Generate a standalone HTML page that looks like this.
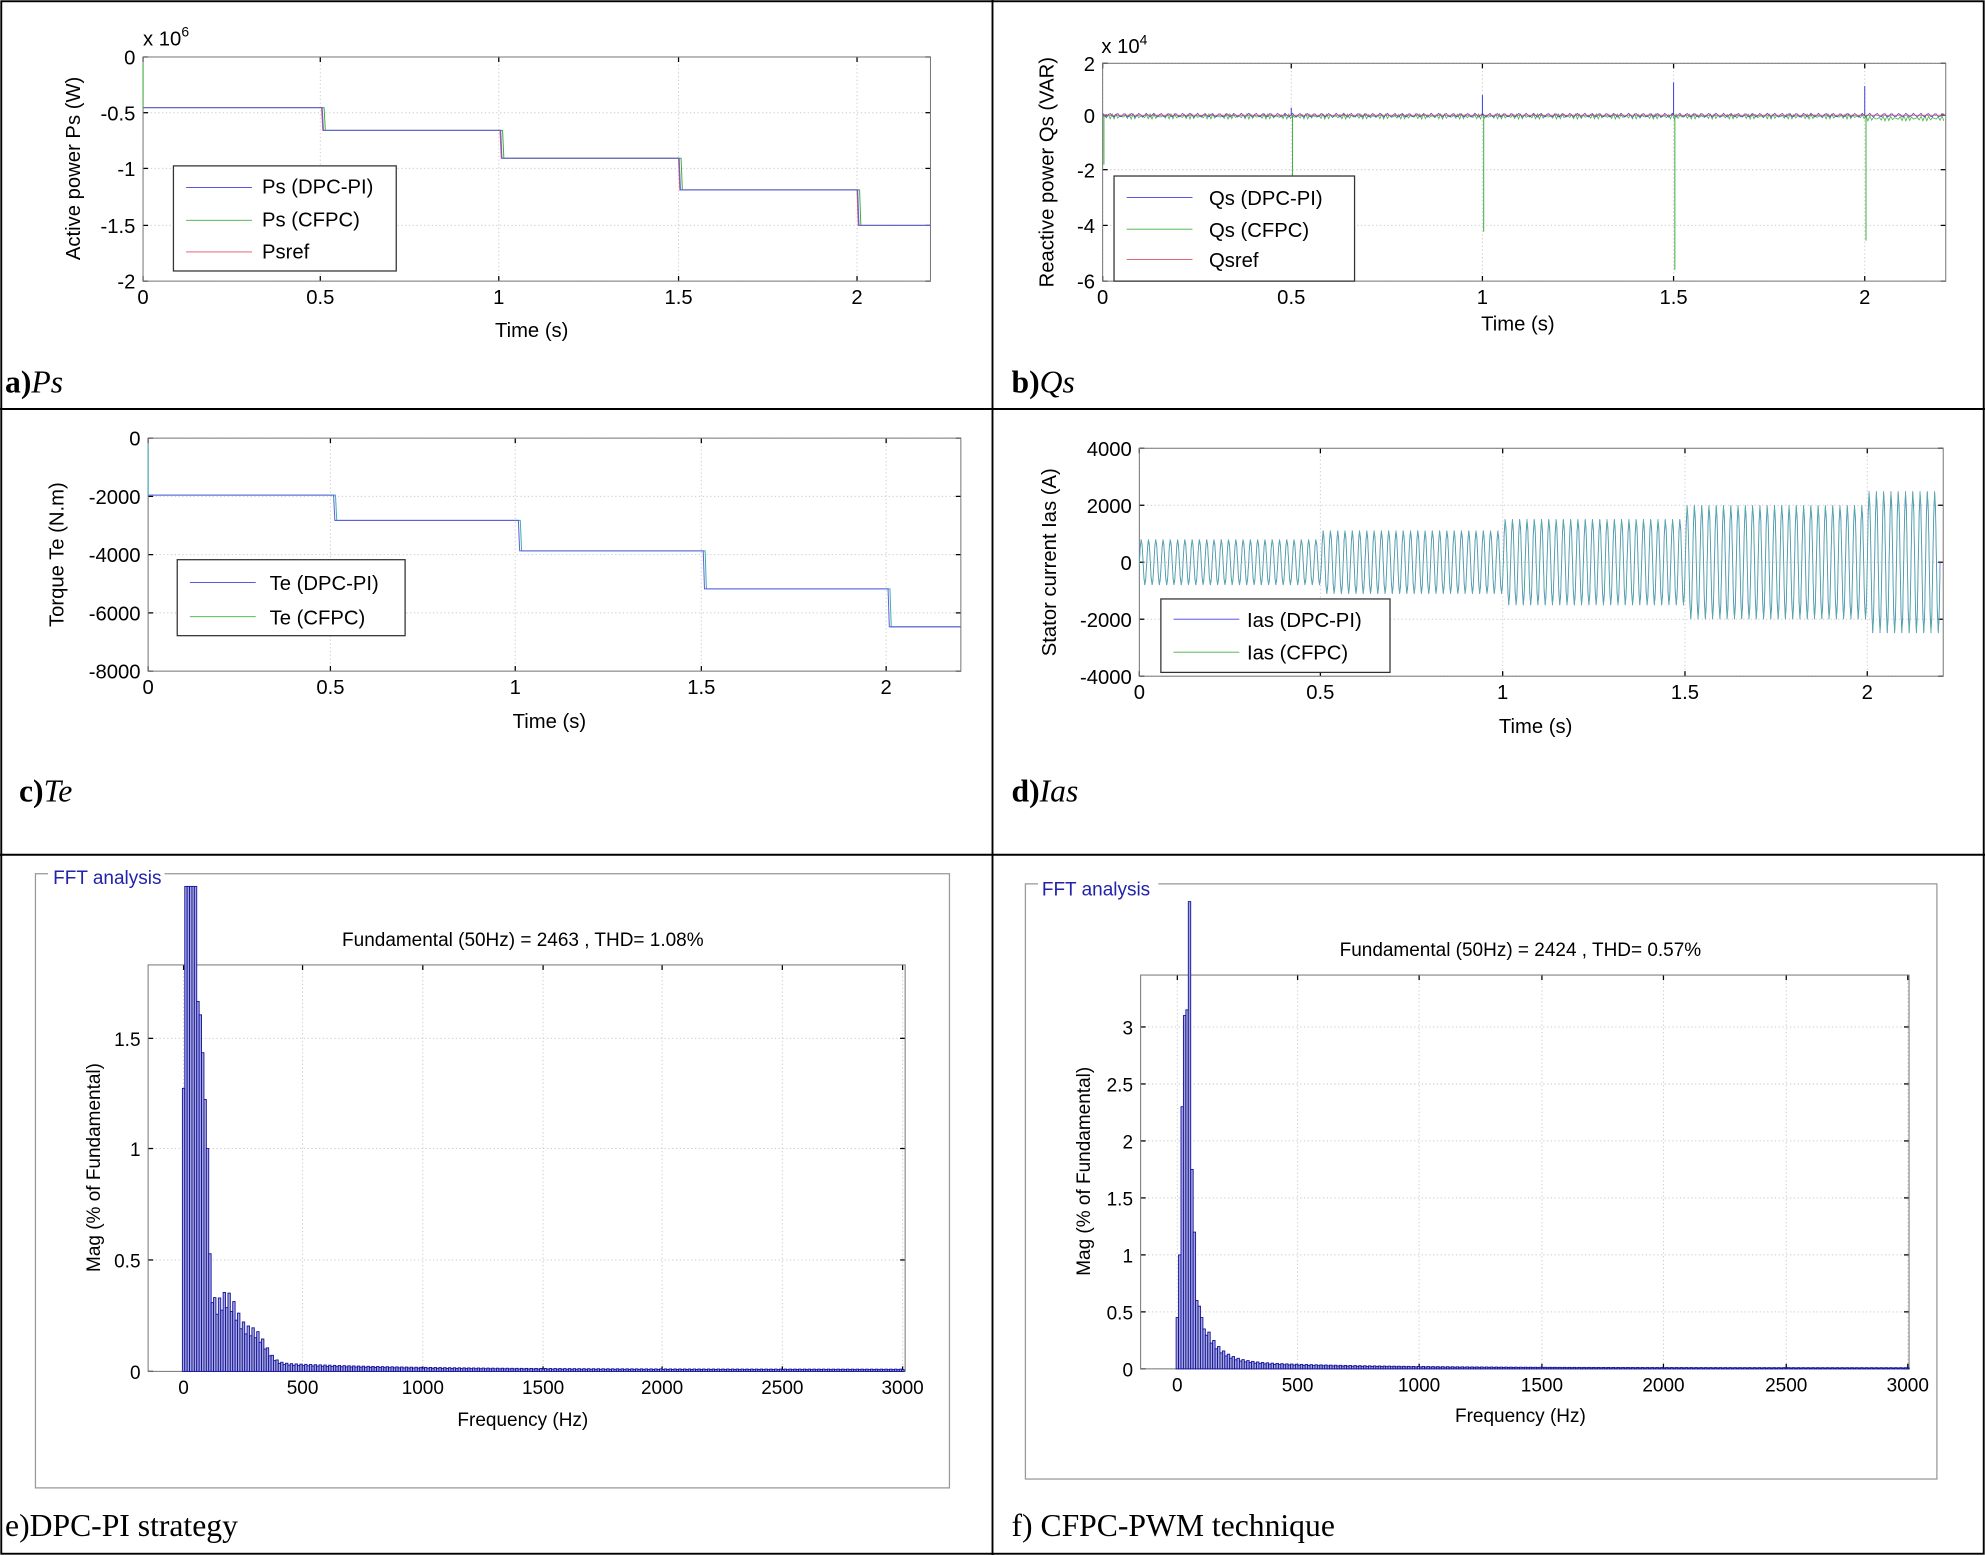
<!DOCTYPE html>
<html><head><meta charset="utf-8"><style>
html,body{margin:0;padding:0;background:#fff}
svg{display:block}
text{font-family:"Liberation Sans",sans-serif;fill:#000}
.cap{font-family:"Liberation Serif",serif;font-size:25px}
.t{font-size:16px}
.fft{font-size:15px}
</style></head><body>
<svg id="s" xmlns="http://www.w3.org/2000/svg" width="1985" height="1555" viewBox="0 0 1568 1228" preserveAspectRatio="none">
<rect x="0" y="0" width="1568" height="1228" fill="#fff"/>
<g stroke="#000" stroke-width="1.5" fill="none">
<rect x="1" y="1" width="1566" height="1226"/>
<line x1="784" y1="0" x2="784" y2="1228"/>
<line x1="0" y1="323" x2="1568" y2="323"/>
<line x1="0" y1="675" x2="1568" y2="675"/>
</g>
<g id="plots"></g>
<text class="cap" x="4" y="310"><tspan font-weight="bold">a)</tspan><tspan font-style="italic">Ps</tspan></text>
<text class="cap" x="799" y="310"><tspan font-weight="bold">b)</tspan><tspan font-style="italic">Qs</tspan></text>
<text class="cap" x="15" y="633"><tspan font-weight="bold">c)</tspan><tspan font-style="italic">Te</tspan></text>
<text class="cap" x="799" y="633"><tspan font-weight="bold">d)</tspan><tspan font-style="italic">Ias</tspan></text>
<text class="cap" x="4" y="1213">e)DPC-PI strategy</text>
<text class="cap" x="799" y="1213">f) CFPC-PWM technique</text>

<text class="t" x="113" y="36">x 10<tspan font-size="11" dy="-7">6</tspan></text>
<text class="t" x="870" y="42">x 10<tspan font-size="11" dy="-7">4</tspan></text>
<text class="t" transform="translate(63,133) rotate(-90)" text-anchor="middle">Active power Ps (W)</text>
<text class="t" transform="translate(832,136) rotate(-90)" text-anchor="middle">Reactive power Qs (VAR)</text>
<text class="t" transform="translate(50,438) rotate(-90)" text-anchor="middle">Torque Te (N.m)</text>
<text class="t" transform="translate(834,444) rotate(-90)" text-anchor="middle">Stator current Ias (A)</text>
<text class="t" x="420" y="266" text-anchor="middle">Time (s)</text>
<text class="t" x="1199" y="261" text-anchor="middle">Time (s)</text>
<text class="t" x="434" y="575" text-anchor="middle">Time (s)</text>
<text class="t" x="1213" y="579" text-anchor="middle">Time (s)</text>

<text class="fft" transform="translate(79,922) rotate(-90)" text-anchor="middle">Mag (% of Fundamental)</text>
<text class="fft" transform="translate(861,925) rotate(-90)" text-anchor="middle">Mag (% of Fundamental)</text>
<text class="fft" x="413" y="747" text-anchor="middle">Fundamental (50Hz) = 2463 , THD= 1.08%</text>
<text class="fft" x="1201" y="755" text-anchor="middle">Fundamental (50Hz) = 2424 , THD= 0.57%</text>
<text class="fft" x="413" y="1126" text-anchor="middle">Frequency (Hz)</text>
<text class="fft" x="1201" y="1123" text-anchor="middle">Frequency (Hz)</text>
<text class="fft" x="42" y="698" style="fill:#2222aa">FFT analysis</text>
<text class="fft" x="823" y="707" style="fill:#2222aa">FFT analysis</text>

<g class="t">
<text x="207" y="153">Ps (DPC-PI)</text><text x="207" y="179">Ps (CFPC)</text><text x="207" y="204">Psref</text>
<text x="955" y="162">Qs (DPC-PI)</text><text x="955" y="187">Qs (CFPC)</text><text x="955" y="211">Qsref</text>
<text x="213" y="466">Te (DPC-PI)</text><text x="213" y="493">Te (CFPC)</text>
<text x="985" y="495">Ias (DPC-PI)</text><text x="985" y="521">Ias (CFPC)</text>
</g>
</svg>
<script>
var NS="http://www.w3.org/2000/svg",G=document.getElementById("plots");
function el(t,a,p){var e=document.createElementNS(NS,t);for(var k in a)e.setAttribute(k,a[k]);(p||G).appendChild(e);return e;}
function txt(x,y,s,anc,fs){var e=el("text",{x:x,y:y,"text-anchor":anc||"middle","font-size":fs||16});e.textContent=s;}
function axes(o){
 for(var i=0;i<o.xt.length;i++){var p=o.xt[i][0];el("line",{x1:p,y1:o.y0,x2:p,y2:o.y1,stroke:"#ccc","stroke-width":0.8,"stroke-dasharray":"1 2"});
  el("line",{x1:p,y1:o.y1,x2:p,y2:o.y1-4,stroke:"#000"});el("line",{x1:p,y1:o.y0,x2:p,y2:o.y0+4,stroke:"#000"});
  txt(p,o.y1+18,o.xt[i][1],"middle",o.fs);}
 for(i=0;i<o.yt.length;i++){p=o.yt[i][0];el("line",{x1:o.x0,y1:p,x2:o.x1,y2:p,stroke:"#ccc","stroke-width":0.8,"stroke-dasharray":"1 2"});
  el("line",{x1:o.x0,y1:p,x2:o.x0+4,y2:p,stroke:"#000"});el("line",{x1:o.x1,y1:p,x2:o.x1-4,y2:p,stroke:"#000"});
  txt(o.x0-6,p+6,o.yt[i][1],"end",o.fs);}
 el("rect",{x:o.x0,y:o.y0,width:o.x1-o.x0,height:o.y1-o.y0,fill:"none",stroke:"#777","stroke-width":0.8});
}
function legend(x,y,w,h,items){el("rect",{x:x,y:y,width:w,height:h,fill:"#fff",stroke:"#333"});
 for(var i=0;i<items.length;i++){var yy=items[i][0];el("line",{x1:x+10,y1:yy,x2:x+62,y2:yy,stroke:items[i][1],"stroke-width":0.7});}}
function pl(pts,c,w){el("polyline",{points:pts.map(function(p){return p[0].toFixed(1)+","+p[1].toFixed(1)}).join(" "),fill:"none",stroke:c,"stroke-width":w||0.8});}
function step(x0,u,yv,xend,del){var p=[[x0,yv[0]]];for(var i=1;i<yv.length;i++){var x=x0+u*0.5*i+(del||0);p.push([x,yv[i-1]]);p.push([x+1,yv[i]]);}p.push([xend,yv[yv.length-1]]);return p;}
// a
axes({x0:113,x1:735,y0:45,y1:222,xt:[[113,"0"],[253,"0.5"],[394,"1"],[536,"1.5"],[677,"2"]],yt:[[45,"0"],[89,"-0.5"],[133,"-1"],[178,"-1.5"],[222,"-2"]]});
var ya=[85,103,125,150,178];
pl(step(113,282,ya,735,0),"#e05060");pl(step(113,282,ya,735,2),"#40b040");pl(step(113,282,ya,735,0.5),"#6060e0");
el("line",{x1:113,y1:50,x2:113,y2:85,stroke:"#40b040","stroke-width":0.8});
legend(137,131,176,83,[[148,"#4040e0"],[174,"#40b040"],[199,"#e05060"]]);
// b
axes({x0:871,x1:1537,y0:50,y1:222,xt:[[871,"0"],[1020,"0.5"],[1171,"1"],[1322,"1.5"],[1473,"2"]],yt:[[50,"2"],[91,"0"],[134,"-2"],[178,"-4"],[222,"-6"]]});
var q1=[],q2=[];for(var x=871;x<1537;x+=1.5){q1.push([x,91+Math.sin(x*3.1)*1.5]);q2.push([x,92+Math.sin(x*2.3+1)*2+(x>1473?1.5:0)]);}
pl(q2,"#40b040",0.6);pl(q1,"#4040e0",0.6);el("line",{x1:871,y1:91,x2:1537,y2:91,stroke:"#e05060","stroke-width":0.6});
[[1020,140,85],[1171,183,75],[1322,213,65],[1473,190,68]].forEach(function(s){el("line",{x1:s[0]+1,y1:91,x2:s[0]+1,y2:s[1],stroke:"#40b040","stroke-width":0.8});el("line",{x1:s[0],y1:91,x2:s[0],y2:s[2],stroke:"#4040e0","stroke-width":0.8});});
el("line",{x1:872,y1:91,x2:872,y2:130,stroke:"#40b040","stroke-width":0.8});
legend(880,139,190,83,[[156,"#4040e0"],[181,"#40b040"],[205,"#e05060"]]);
// c
axes({x0:117,x1:759,y0:346,y1:530,xt:[[117,"0"],[261,"0.5"],[407,"1"],[554,"1.5"],[700,"2"]],yt:[[346,"0"],[392,"-2000"],[438,"-4000"],[484,"-6000"],[530,"-8000"]]});
var yc=[391,411,435,465,495];
pl(step(117,292,yc,759,2),"#40b0b0");pl(step(117,292,yc,759,0.5),"#6060e0");
el("line",{x1:117,y1:350,x2:117,y2:391,stroke:"#40b0b0","stroke-width":0.8});
legend(140,442,180,60,[[460,"#4040e0"],[487,"#40b040"]]);
// d
axes({x0:900,x1:1535,y0:354,y1:534,xt:[[900,"0"],[1043,"0.5"],[1187,"1"],[1331,"1.5"],[1475,"2"]],yt:[[354,"4000"],[399,"2000"],[444,"0"],[489,"-2000"],[534,"-4000"]]});
var d1=[],d2=[],amps=[18,25,34,45,56];
for(var t=0;t<=2.2;t+=0.0025){var k=Math.min(4,Math.floor(t/0.5));var a=amps[k];var xx=900+t*287.5;
 d1.push([xx,444-a*Math.sin(2*Math.PI*50*t)]);d2.push([xx,444-a*Math.sin(2*Math.PI*50*t-0.15)]);}
pl(d1,"#6060e0",0.6);pl(d2,"#50b0a0",0.6);
legend(917,473,181,58,[[489,"#4040e0"],[515,"#40b040"]]);
// e
el("rect",{x:28,y:690,width:722,height:485,fill:"none",stroke:"#999"});
el("rect",{x:38,y:686,width:92,height:10,fill:"#fff"});
axes({x0:117,x1:715,y0:762,y1:1083,fs:15,xt:[[145,"0"],[239,"500"],[334,"1000"],[429,"1500"],[523,"2000"],[618,"2500"],[713,"3000"]],yt:[[1083,"0"],[995,"0.5"],[907,"1"],[820,"1.5"]]});
function bars(x0,ux,y0,uy,ytop,fn){var w=10*ux;for(var f=0;f<=3000;f+=10){var m=fn(f);var h=Math.min(m*uy,y0-ytop);var x=x0+f*ux-w/2;
 el("rect",{x:x,y:y0-h,width:w,height:h,fill:"#a8a8d8",stroke:"#1010a0","stroke-width":0.7});}}
var eTab={0:1.27,10:5,20:5,30:5,40:5,50:5,60:1.66,70:1.6,80:1.43,90:1.22,100:1.0};
bars(145,94.7/500,1083,176,700,function(f){if(eTab[f]!==undefined)return eTab[f];var v=0.7*Math.exp(-(f-100)/15)+0.3*Math.exp(-Math.pow((f-180)/70,2))+0.13*Math.exp(-Math.pow((f-300)/60,2))+0.06*Math.exp(-f/500)+0.01;return v*(f%20?1:0.8);});
// f
el("rect",{x:810,y:698,width:720,height:470,fill:"none",stroke:"#999"});
el("rect",{x:820,y:694,width:95,height:10,fill:"#fff"});
axes({x0:901,x1:1508,y0:770,y1:1081,fs:15,xt:[[930,"0"],[1025,"500"],[1121,"1000"],[1218,"1500"],[1314,"2000"],[1411,"2500"],[1507,"3000"]],yt:[[1081,"0"],[1036,"0.5"],[991,"1"],[946,"1.5"],[901,"2"],[856,"2.5"],[811,"3"]]});
var fTab={0:0.45,10:1.0,20:2.3,30:3.1,40:3.15,50:4.1,60:1.75,70:1.2,80:0.6,90:0.55,100:0.45,110:0.35};
bars(930,96.2/500,1081,90,710,function(f){if(fTab[f]!==undefined)return fTab[f];var v=0.35*Math.exp(-(f-110)/60)+0.08*Math.exp(-f/500)+0.01;return v*(f%20?1:0.8);});
</script>
</body></html>
